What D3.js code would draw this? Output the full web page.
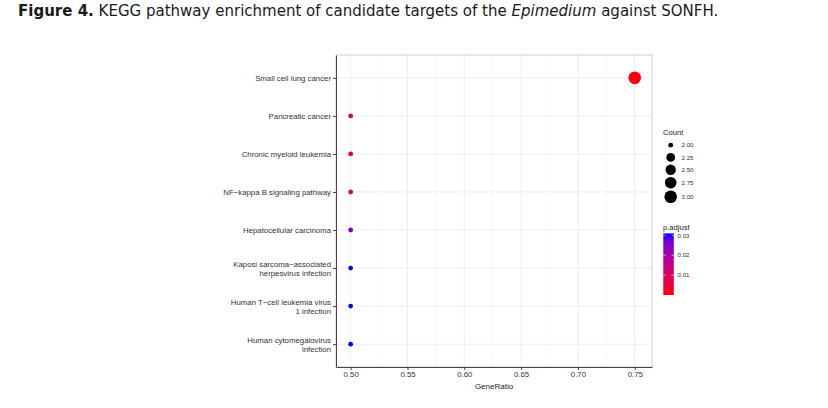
<!DOCTYPE html>
<html><head><meta charset="utf-8">
<script src="https://cdn.jsdelivr.net/npm/d3@7"></script>
<style>body{margin:0;background:#fff}svg{display:block}</style>
</head><body><svg id="c" width="828" height="408"></svg>
<script>
const pathways = ["Small cell lung cancer","Pancreatic cancer","Chronic myeloid leukemia","NF-kappa B signaling pathway","Hepatocellular carcinoma","Kaposi sarcoma-associated herpesvirus infection","Human T-cell leukemia virus 1 infection","Human cytomegalovirus infection"];
const pathwayLines = [["Small cell lung cancer"],["Pancreatic cancer"],["Chronic myeloid leukemia"],["NF\u2212kappa B signaling pathway"],["Hepatocellular carcinoma"],["Kaposi sarcoma\u2212associated","herpesvirus infection"],["Human T\u2212cell leukemia virus","1 infection"],["Human cytomegalovirus","infection"]];
const geneRatio = [0.75,0.5,0.5,0.5,0.5,0.5,0.5,0.5];
const counts = [3,2,2,2,2,2,2,2];
const pAdjust = [0.0008,0.0088,0.0088,0.0088,0.0245,0.031,0.031,0.031];
const xTicks = [0.50,0.55,0.60,0.65,0.70,0.75];
const xMinor = [0.525,0.575,0.625,0.675,0.725];
const countLegend = [2.00,2.25,2.50,2.75,3.00];
const pTicks = [0.01,0.02,0.03];

const svg = d3.select("#c");
const font = "Liberation Sans, Arial, sans-serif";

// Title
const title = svg.append("text").attr("x",18).attr("y",16).attr("font-family","'DejaVu Sans Condensed','DejaVu Sans',sans-serif").attr("font-stretch","condensed").attr("font-size",16.7).attr("fill","#1a1a1a");
title.append("tspan").attr("font-weight","bold").text("Figure 4.");
title.append("tspan").text(" KEGG pathway enrichment of candidate targets of the ");
title.append("tspan").attr("font-style","italic").text("Epimedium");
title.append("tspan").text(" against SONFH.");

const L=336,R=652,T=55,B=367;
const x = d3.scaleLinear().domain([0.4871,0.7652]).range([L,R]);
const y = d3.scalePoint().domain(pathways).range([T,B]).padding(0.6);
const cNorm = d3.scaleLinear().domain([2,3]).range([0,1]);
const rRange = d3.scaleLinear().domain([0,1]).range([2.4,6.3]);
const rScale = v => rRange(Math.sqrt(cNorm(v)));
const color = d3.scaleSequential(d3.interpolateLab("#FF0000","#0000FF")).domain([0,0.031]);

// grid
const g = svg.append("g");
g.selectAll(".mn").data(xMinor).join("line").attr("x1",d=>x(d)).attr("x2",d=>x(d)).attr("y1",T).attr("y2",B).attr("stroke","#f4f4f4").attr("stroke-width",0.6);
g.selectAll(".mj").data(xTicks).join("line").attr("x1",d=>x(d)).attr("x2",d=>x(d)).attr("y1",T).attr("y2",B).attr("stroke","#e8e8e8").attr("stroke-width",0.8);
g.selectAll(".my").data(pathways).join("line").attr("x1",L).attr("x2",R).attr("y1",d=>y(d)).attr("y2",d=>y(d)).attr("stroke","#e8e8e8").attr("stroke-width",0.8);
// border
svg.append("rect").attr("x",L).attr("y",T).attr("width",R-L).attr("height",B-T).attr("fill","none").attr("stroke","#c4c4c4").attr("stroke-width",0.8);

// axes
const xAxis = svg.append("g").attr("transform",`translate(0,${B})`).call(d3.axisBottom(x).tickValues(xTicks).tickFormat(d3.format(".2f")).tickSize(3).tickSizeOuter(0));
xAxis.select(".domain").attr("stroke","#444").attr("stroke-width",1);
xAxis.selectAll(".tick line").attr("stroke","#444");
xAxis.selectAll("text").attr("font-family",font).attr("font-size",7.8).attr("fill","#333").attr("dy","0.55em");
const yAxis = svg.append("g").attr("transform",`translate(${L},0)`).call(d3.axisLeft(y).tickSize(3).tickSizeOuter(0).tickFormat(""));
yAxis.select(".domain").attr("stroke","#444").attr("stroke-width",1);
yAxis.selectAll(".tick line").attr("stroke","#444");
yAxis.selectAll(".tick").each(function(d,i){
  const lines = pathwayLines[i];
  const t = d3.select(this).append("text").attr("x",-5).attr("text-anchor","end").attr("font-family",font).attr("font-size",7.8).attr("fill","#333");
  const lh = 9.2;
  lines.forEach((s,j)=>{
    t.append("tspan").attr("x",-5).attr("y",(j-(lines.length-1)/2)*lh).attr("dy","0.35em").text(s);
  });
});
svg.append("text").attr("x",(L+R)/2).attr("y",389).attr("text-anchor","middle").attr("font-family",font).attr("font-size",8).attr("fill","#222").text("GeneRatio");

// points
svg.append("g").selectAll("circle").data(pathways).join("circle")
  .attr("cx",(d,i)=>x(geneRatio[i])).attr("cy",d=>y(d))
  .attr("r",(d,i)=>rScale(counts[i])).attr("fill",(d,i)=>color(pAdjust[i]));

// Count legend
svg.append("text").attr("x",663).attr("y",135).attr("font-family",font).attr("font-size",7.6).attr("fill","#222").text("Count");
let cy = 139;
const lg = svg.append("g");
countLegend.forEach(v=>{
  const r = rScale(v);
  const h = Math.max(12.3, 2*r+2);
  const c = cy + h/2;
  lg.append("circle").attr("cx",670.7).attr("cy",c).attr("r",r).attr("fill","#000");
  lg.append("text").attr("x",681.5).attr("y",c).attr("dy","0.35em").attr("font-family",font).attr("font-size",6.2).attr("fill","#333").text(v.toFixed(2));
  cy += h;
});

// p.adjust colorbar
svg.append("text").attr("x",663).attr("y",230).attr("font-family",font).attr("font-size",7.6).attr("fill","#222").text("p.adjust");
const cb = d3.scaleLinear().domain([0,0.031]).range([295,233.4]);
const defs = svg.append("defs");
const grad = defs.append("linearGradient").attr("id","pg").attr("x1",0).attr("x2",0).attr("y1",1).attr("y2",0);
d3.range(0,1.0001,0.1).forEach(t=>grad.append("stop").attr("offset",t).attr("stop-color",color(t*0.031)));
svg.append("rect").attr("x",663.3).attr("y",cb(0.031)).attr("width",10.5).attr("height",cb(0)-cb(0.031)).attr("fill","url(#pg)");
pTicks.forEach(v=>{
  svg.append("line").attr("x1",663.3).attr("x2",665.5).attr("y1",cb(v)).attr("y2",cb(v)).attr("stroke","#fff").attr("stroke-width",0.6);
  svg.append("line").attr("x1",671.6).attr("x2",673.8).attr("y1",cb(v)).attr("y2",cb(v)).attr("stroke","#fff").attr("stroke-width",0.6);
  svg.append("text").attr("x",677.5).attr("y",cb(v)).attr("dy","0.35em").attr("font-family",font).attr("font-size",6.2).attr("fill","#333").text(v.toFixed(2));
});
</script></body></html>
